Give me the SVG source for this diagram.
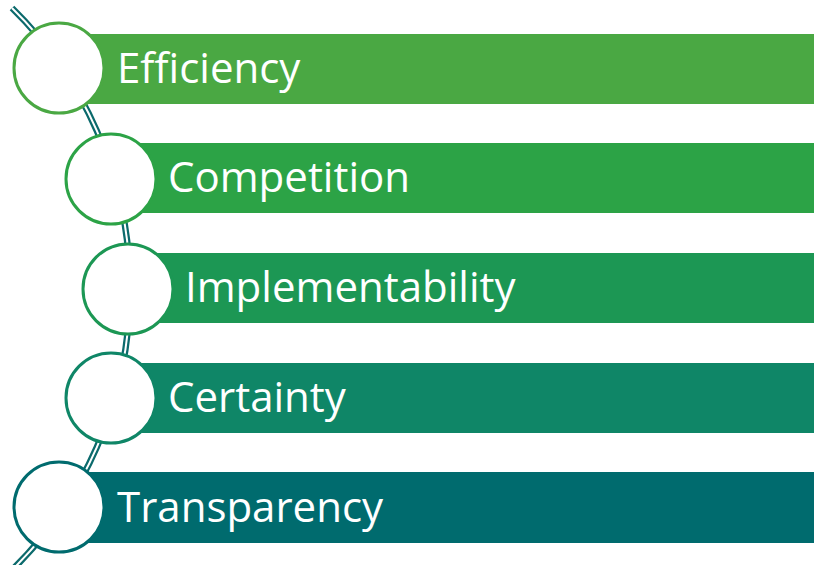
<svg xmlns="http://www.w3.org/2000/svg" width="814" height="565" viewBox="0 0 814 565">
<style>
.lbl{font-family:"Open Sans","Liberation Sans",sans-serif;font-size:42px;fill:#ffffff}
.ring{fill:#ffffff;stroke-width:3}
</style>
<rect width="814" height="565" fill="#ffffff"/>
<g id="connectors">
<path d="M 12 8 A 393.5 393.5 0 0 1 12 570" fill="none" stroke="#0b6a6c" stroke-width="6.5"/>
<path d="M 12 8 A 393.5 393.5 0 0 1 12 570" fill="none" stroke="#ffffff" stroke-width="2"/>
</g>
<g id="efficiency">
<rect x="60" y="34" width="754" height="70" fill="#4aa843"/>
<circle class="ring" cx="59" cy="68" r="45" stroke="#4aa843"/>
<text class="lbl" x="117" y="83">Efficiency</text>
</g>
<g id="competition">
<rect x="111" y="143" width="703" height="70" fill="#2ca346"/>
<circle class="ring" cx="111" cy="179" r="45" stroke="#2ca346"/>
<text class="lbl" x="168" y="192">Competition</text>
</g>
<g id="implementability">
<rect x="128" y="253" width="686" height="70" fill="#1c9754"/>
<circle class="ring" cx="128" cy="289" r="45" stroke="#1c9754"/>
<text class="lbl" x="185" y="302">Implementability</text>
</g>
<g id="certainty">
<rect x="111" y="363" width="703" height="70" fill="#0f8667"/>
<circle class="ring" cx="111" cy="398" r="45" stroke="#0f8667"/>
<text class="lbl" x="168" y="412">Certainty</text>
</g>
<g id="transparency">
<rect x="60" y="472" width="754" height="71" fill="#006b6e"/>
<circle class="ring" cx="59" cy="507" r="45" stroke="#006b6e"/>
<text class="lbl" x="117" y="522">Transparency</text>
</g>
</svg>
